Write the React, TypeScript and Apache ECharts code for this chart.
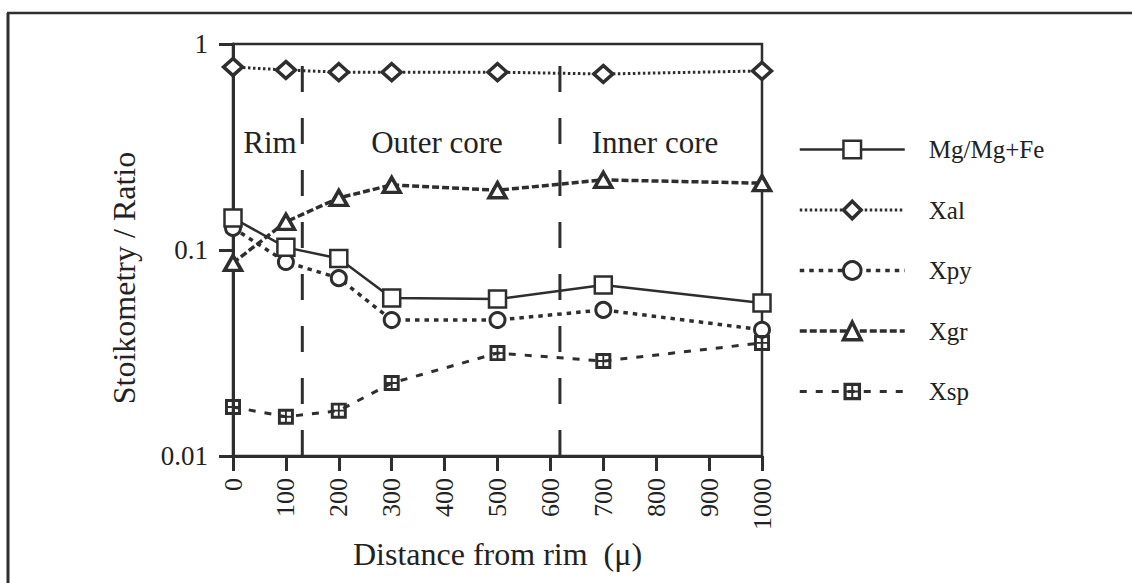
import React, { useEffect, useRef } from "react";
import * as echarts from "echarts";

const distances = [0, 100, 200, 300, 500, 700, 1000];
const mgRatio = [0.143, 0.103, 0.091, 0.0585, 0.0578, 0.0676, 0.0553];
const xal = [0.773, 0.748, 0.73, 0.73, 0.73, 0.715, 0.74];
const xpy = [0.128, 0.0875, 0.073, 0.0457, 0.0457, 0.0512, 0.041];
const xgr = [0.0865, 0.137, 0.179, 0.207, 0.195, 0.219, 0.211];
const xsp = [0.0173, 0.0155, 0.0166, 0.0226, 0.0316, 0.0289, 0.0354];
const zoneBoundaries = [131, 618];
const yRange = [0.01, 1];
const zoneLabels = ["Rim", "Outer core", "Inner core"];
const seriesNames = ["Mg/Mg+Fe", "Xal", "Xpy", "Xgr", "Xsp"];
const yTitle = "Stoikometry / Ratio";
const xTitle = "Distance from rim  (\u03bc)";

const INK = "#2e2e2e";
const FONT = "'Liberation Serif', 'Times New Roman', serif";
const SP_SYMBOL =
  "path://M0,0H12V12H0Z M2.2,2.2V5.3H5.3V2.2Z M6.7,2.2V5.3H9.8V2.2Z M2.2,6.7V9.8H5.3V6.7Z M6.7,6.7V9.8H9.8V6.7Z";

const styles = [
  { symbol: "rect", size: 17 as any, line: { width: 2.5, type: "solid" as any }, border: 2.5, fill: "#fff" },
  { symbol: "diamond", size: [19, 17], line: { width: 3, type: [2.5, 2.5] }, border: 3.5, fill: "#fff" },
  { symbol: "circle", size: 15, line: { width: 3.5, type: [4.5, 5] }, border: 3, fill: "#fff" },
  { symbol: "triangle", size: [17, 15], line: { width: 3.5, type: [7, 3] }, border: 3.5, fill: "#fff" },
  { symbol: SP_SYMBOL, size: 16, line: { width: 3, type: [7, 9] }, border: 0, fill: INK },
];
const seriesData = [mgRatio, xal, xpy, xgr, xsp];

function pairs(vals: number[]) {
  return distances.map((d, i) => [d, vals[i]]);
}

export default function App() {
  const ref = useRef<HTMLDivElement>(null);
  useEffect(() => {
    if (!ref.current) return;
    const chart = echarts.init(ref.current, null, { renderer: "svg" });
    const textBase = { font: `31px ${FONT}`, fill: "#222", textAlign: "center", textVerticalAlign: "middle" };
    const boundarySeries = zoneBoundaries.map((x, k) => ({
      name: "boundary" + k,
      type: "line",
      data: [
        [x, yRange[0]],
        [x, yRange[1]],
      ],
      symbol: "none",
      silent: true,
      lineStyle: { color: INK, width: 3, type: [26, 26] },
      z: 3,
    }));
    const series: any[] = seriesNames.map((name, i) => ({
      name,
      type: "line",
      data: pairs(seriesData[i]),
      symbol: styles[i].symbol,
      symbolSize: styles[i].size,
      lineStyle: { color: INK, width: styles[i].line.width, type: styles[i].line.type },
      itemStyle: { color: styles[i].fill, borderColor: INK, borderWidth: styles[i].border },
      z: i === 0 ? 5 : 4,
    }));
    chart.setOption({
      animation: false,
      backgroundColor: "#fff",
      grid: {
        left: 233,
        top: 44,
        right: 370,
        bottom: 127,
        show: true,
        borderColor: INK,
        borderWidth: 2.5,
        backgroundColor: "transparent",
      },
      legend: {
        orient: "vertical",
        left: 793,
        top: 132,
        itemWidth: 105,
        itemHeight: 22,
        itemGap: 35.5,
        data: seriesNames.map((name, i) => ({
          name,
          itemStyle: { color: styles[i].fill, borderColor: INK, borderWidth: styles[i].border },
          lineStyle: { color: INK, width: styles[i].line.width, type: styles[i].line.type },
        })),
        textStyle: {
          fontFamily: FONT,
          fontSize: 25,
          color: "#222",
          padding: [0, 0, 0, 19],
        },
      },
      xAxis: {
        type: "value",
        min: 0,
        max: 1000,
        interval: 100,
        name: xTitle,
        nameLocation: "middle",
        nameGap: 78,
        nameTextStyle: { fontFamily: FONT, fontSize: 32, color: "#222" },
        axisLine: { onZero: false, lineStyle: { color: INK, width: 3 } },
        axisTick: { show: true, length: 15, lineStyle: { color: INK, width: 3 } },
        axisLabel: {
          rotate: 90,
          margin: 22,
          fontFamily: FONT,
          fontSize: 26,
          color: "#222",
          formatter: (v: number) => String(v),
        },
        splitLine: { show: false },
      },
      yAxis: {
        type: "log",
        logBase: 10,
        min: yRange[0],
        max: yRange[1],
        axisLine: { lineStyle: { color: INK, width: 3 } },
        axisTick: { show: true, length: 14, lineStyle: { color: INK, width: 3 } },
        axisLabel: {
          margin: 25,
          fontFamily: FONT,
          fontSize: 27,
          color: "#222",
          formatter: (v: number) => String(Number(v.toPrecision(3))),
        },
        minorTick: { show: false },
        splitLine: { show: false },
      },
      graphic: [
        {
          type: "line",
          shape: { x1: 7, y1: 13, x2: 1132, y2: 13 },
          style: { stroke: INK, lineWidth: 2.5 },
        },
        {
          type: "line",
          shape: { x1: 8, y1: 13, x2: 8, y2: 583 },
          style: { stroke: INK, lineWidth: 3 },
        },
        {
          type: "text",
          x: 124,
          y: 278,
          rotation: Math.PI / 2,
          style: { ...textBase, text: yTitle, font: `32px ${FONT}` },
        },
        { type: "text", x: 270, y: 142, style: { ...textBase, text: zoneLabels[0] } },
        { type: "text", x: 437, y: 142, style: { ...textBase, text: zoneLabels[1] } },
        { type: "text", x: 655, y: 142, style: { ...textBase, text: zoneLabels[2] } },
      ],
      series: [...boundarySeries, ...series],
    });
    return () => chart.dispose();
  }, []);
  return (
    <div
      ref={ref}
      style={{ position: "fixed", left: 0, top: 0, width: 1132, height: 583, background: "#fff" }}
    />
  );
}
